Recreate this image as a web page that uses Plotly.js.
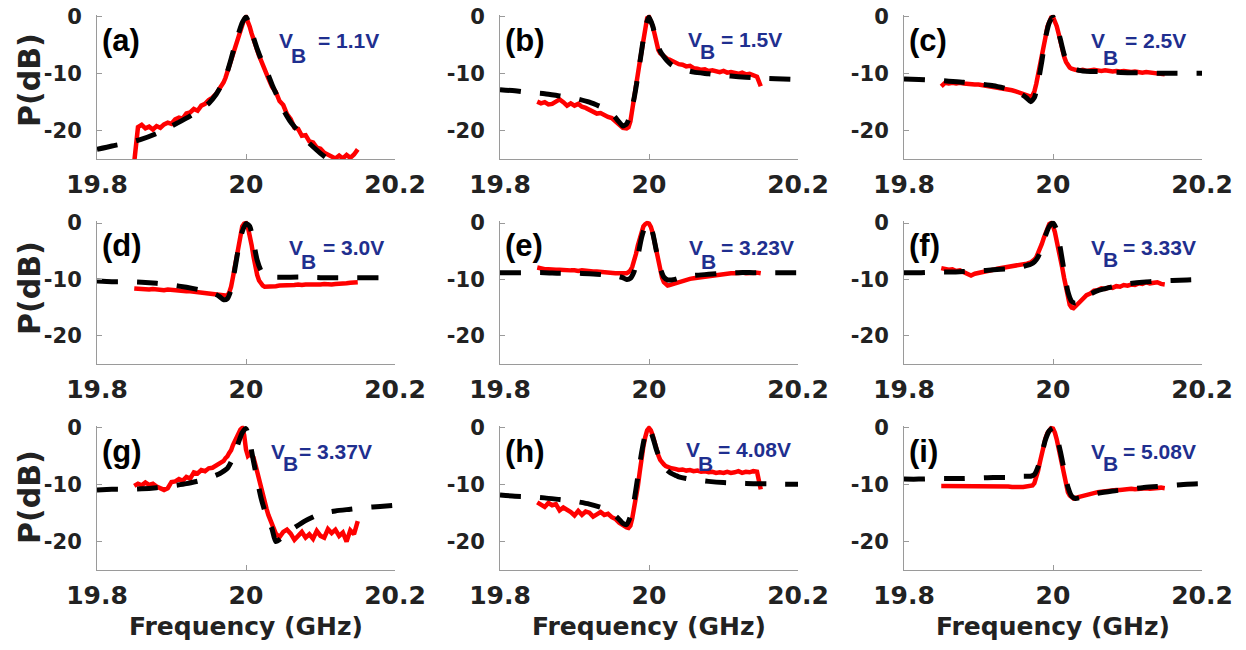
<!DOCTYPE html>
<html>
<head>
<meta charset="utf-8">
<script src="https://cdn.plot.ly/plotly-3.0.1.min.js"></script>
<style>html,body{margin:0;padding:0;background:#fff;}#chart{width:1246px;height:650px;}</style>
</head>
<body>
<div id="chart"></div>
<script>
// ---------------- DATA ----------------
// measured-trace frequency samples (GHz)
const measFreq = [
  19.850,19.855,19.860,19.865,19.870,19.875,19.880,19.885,19.890,19.895,19.900,19.905,
  19.910,19.915,19.920,19.925,19.930,19.935,19.940,19.945,19.950,19.955,19.960,19.965,
  19.9700,19.9725,19.9750,19.9775,19.9800,19.9825,19.9850,19.9875,19.9900,19.9925,19.9950,19.9975,
  20.0000,20.0025,20.0050,20.0075,20.0100,20.0125,20.0150,20.0175,20.0200,20.0225,20.0250,20.0275,20.0300,
  20.035,20.040,20.045,20.050,20.055,20.060,20.065,20.070,20.075,20.080,20.085,20.090,
  20.095,20.100,20.105,20.110,20.115,20.120,20.125,20.130,20.135,20.140,20.145,20.150
];
// fitted-curve frequency samples (GHz)
const fitFreq = [
  19.80,19.82,19.84,19.86,19.88,19.90,19.92,19.94,19.95,19.96,
  19.965,19.97,19.975,19.98,19.985,19.99,19.995,20.0,20.005,20.01,
  20.015,20.02,20.025,20.03,20.035,20.04,20.05,20.06,20.08,20.10,
  20.12,20.14,20.16,20.18,20.20
];

// measured P (dB)
const measA = [
  -25.5,-19.4,-19.0,-19.6,-19.3,-19.8,-19.2,-19.5,-18.9,-18.6,-18.8,-18.0,-17.7,-17.9,-17.0,-16.8,-16.2,-16.5,-15.6,-15.3,-14.6,-14.2,-13.5,-12.6,
  -11.5,-10.7,-9.7,-8.6,-7.6,-6.5,-5.5,-4.4,-3.4,-2.3,-1.4,-0.4,0,-0.7,-1.7,-2.9,-4.0,-4.9,-5.8,-6.8,-7.6,-8.5,-9.4,-10.0,-10.8,
  -12.3,-13.2,-14.8,-15.5,-17.1,-18.0,-19.5,-19.7,-20.9,-20.8,-21.9,-22.1,-23.0,-23.2,-23.9,-24.3,-24.7,-24.9,-24.4,-24.9,-24.3,-24.8,-24.2,-23.3
];
const measB = [
  -14.9,-15.2,-15.0,-15.4,-15.3,-14.8,-14.5,-15.0,-15.6,-15.2,-15.6,-15.3,-15.8,-16.0,-16.4,-16.6,-17.0,-16.9,-17.3,-17.6,-17.8,-18.4,-19.0,-19.5,
  -19.6,-19.4,-18.4,-16.6,-14.5,-12.3,-10.1,-8.0,-5.8,-3.3,-1.2,-0.2,0,-0.6,-1.6,-3.0,-4.6,-5.8,-6.4,-6.7,-7.0,-7.2,-7.4,-7.5,-7.7,
  -8.0,-8.3,-8.4,-8.7,-8.6,-9.0,-9.1,-9.3,-9.2,-9.5,-9.4,-9.6,-9.7,-9.5,-9.8,-9.7,-9.9,-10.0,-9.8,-10.1,-10.0,-10.2,-10.5,-12.2
];
const measC = [
  -12.2,-11.6,-11.7,-11.6,-11.7,-11.6,-11.7,-11.8,-11.8,-11.9,-11.9,-12.0,-12.0,-12.1,-12.2,-12.3,-12.5,-12.6,-12.8,-12.9,-13.1,-13.3,-13.6,-13.9,
  -14.0,-13.8,-13.1,-11.8,-10.3,-8.8,-7.2,-5.4,-3.5,-1.7,-0.6,-0.1,0,-0.6,-1.6,-2.9,-4.4,-5.8,-7.0,-7.9,-8.5,-8.9,-9.1,-9.3,-9.3,
  -9.4,-9.3,-9.5,-9.4,-9.3,-9.4,-9.5,-9.4,-9.5,-9.6,-9.5,-9.6,-9.5,-9.6,-9.7,-9.6,-9.7,-9.8,-9.7,-9.8,-9.9,-9.9,-10.0,-10.1
];
const measD = [
  -11.6,-11.7,-11.6,-11.7,-11.8,-11.7,-11.8,-11.8,-11.9,-11.8,-11.9,-12.0,-11.9,-12.0,-12.1,-12.1,-12.2,-12.3,-12.3,-12.4,-12.5,-12.6,-12.7,-12.8,
  -12.9,-13.0,-12.9,-12.3,-11.3,-9.6,-7.7,-5.5,-3.6,-1.8,-0.6,-0.1,0,-0.7,-2.0,-3.9,-5.9,-7.8,-9.2,-10.2,-10.8,-11.1,-11.3,-11.3,-11.3,
  -11.2,-11.2,-11.1,-11.1,-11.0,-11.1,-11.0,-10.9,-11.0,-10.9,-10.9,-11.0,-10.9,-10.9,-10.8,-10.9,-10.9,-10.8,-10.8,-10.7,-10.7,-10.6,-10.6,-10.5
];
const measE = [
  -7.9,-8.1,-8.2,-8.2,-8.3,-8.3,-8.3,-8.4,-8.3,-8.4,-8.4,-8.5,-8.4,-8.5,-8.5,-8.6,-8.6,-8.7,-8.7,-8.8,-8.8,-8.9,-8.9,-8.9,
  -8.9,-8.7,-8.4,-7.8,-6.8,-5.5,-4.0,-2.6,-1.4,-0.6,-0.2,0,-0.1,-0.7,-1.8,-3.4,-5.2,-7.0,-8.5,-9.7,-10.5,-10.9,-11.1,-11.0,-10.9,
  -10.6,-10.4,-10.2,-10.0,-9.9,-9.8,-9.7,-9.6,-9.5,-9.4,-9.3,-9.2,-9.1,-9.0,-9.0,-8.9,-8.9,-8.8,-8.8,-8.9,-8.8,-8.9,-8.8,-8.9
];
const measF = [
  -8.0,-8.2,-8.3,-8.2,-8.5,-8.4,-8.7,-8.9,-9.3,-9.0,-8.9,-8.7,-8.6,-8.4,-8.3,-8.1,-8.0,-7.9,-7.8,-7.7,-7.6,-7.5,-7.3,-7.2,
  -7.0,-6.8,-6.5,-6.1,-5.4,-4.6,-3.7,-2.7,-1.7,-0.8,-0.2,0,-0.5,-1.6,-3.0,-4.6,-6.3,-8.0,-9.8,-11.6,-13.3,-14.5,-15.0,-15.1,-14.8,
  -14.1,-13.5,-12.8,-12.5,-12.0,-11.9,-11.6,-11.7,-11.4,-11.5,-11.2,-11.3,-11.0,-11.1,-10.9,-11.0,-10.7,-10.8,-10.5,-10.7,-10.6,-10.5,-10.8,-10.9
];
const measG = [
  -10.2,-9.8,-10.1,-9.6,-10.0,-9.8,-10.3,-10.6,-10.9,-10.6,-9.5,-9.4,-9.0,-9.3,-8.6,-8.9,-7.8,-8.0,-7.4,-7.6,-7.1,-7.0,-6.6,-6.0,
  -5.8,-5.3,-5.0,-4.4,-3.9,-3.0,-2.2,-1.5,-0.8,-0.3,0,-1.2,-3.8,-4.9,-4.6,-5.0,-5.2,-6.4,-7.8,-9.3,-10.7,-11.9,-13.0,-14.2,-15.3,
  -17.0,-18.6,-19.2,-18.3,-17.9,-18.6,-19.7,-18.9,-18.3,-19.3,-18.7,-19.5,-18.1,-19.0,-19.3,-17.8,-18.5,-17.9,-19.0,-18.4,-20.0,-18.0,-18.7,-16.4
];
const measH = [
  -13.1,-13.6,-13.9,-13.2,-13.6,-13.4,-14.5,-14.0,-14.3,-14.8,-15.4,-14.6,-15.3,-14.7,-14.9,-15.6,-15.2,-14.8,-15.3,-15.1,-15.7,-16.0,-16.7,-17.2,
  -17.5,-17.6,-17.2,-15.9,-14.2,-12.2,-10.3,-7.8,-5.2,-3.2,-1.6,-0.4,0,-0.4,-1.3,-2.6,-3.8,-4.8,-5.6,-6.1,-6.4,-6.7,-6.9,-7.0,-7.1,
  -7.2,-7.4,-7.3,-7.5,-7.4,-7.6,-7.5,-7.7,-7.6,-7.8,-7.7,-7.9,-7.8,-7.9,-7.7,-7.9,-7.8,-7.6,-7.9,-7.7,-7.8,-7.6,-7.7,-10.8
];
const measI = [
  -10.2,-10.2,-10.3,-10.2,-10.3,-10.2,-10.3,-10.2,-10.3,-10.3,-10.2,-10.3,-10.3,-10.2,-10.3,-10.3,-10.2,-10.3,-10.3,-10.4,-10.3,-10.4,-10.4,-10.3,
  -10.3,-10.1,-9.7,-8.8,-7.5,-6.0,-4.4,-3.0,-1.8,-0.9,-0.3,0,-0.1,-0.8,-2.0,-3.6,-5.4,-7.2,-8.9,-10.3,-11.3,-11.9,-12.3,-12.4,-12.3,
  -12.1,-11.9,-11.7,-11.6,-11.4,-11.3,-11.2,-11.1,-11.1,-11.0,-10.9,-10.9,-10.8,-10.8,-10.7,-10.8,-10.7,-10.7,-10.6,-10.7,-10.6,-10.6,-10.5,-10.6
];

// fitted P (dB)
const fitA = [-23.3,-22.7,-22.2,-21.5,-20.5,-19.2,-17.8,-16.2,-15.2,-13.6,-12.5,-11.2,-9.6,-7.4,-5.0,-2.9,-1.0,0,-1.5,-3.6,-5.6,-7.3,-8.7,-10.2,-11.9,-13.4,-16.3,-18.5,-21.6,-24.0,-26,-27.5,-29,-30,-31];
const fitB = [-12.8,-13.0,-13.3,-13.5,-13.9,-14.3,-15.0,-16.1,-17.0,-18.5,-19.2,-18.8,-17.2,-14.3,-10.4,-6.0,-1.8,0,-1.6,-4.3,-6.0,-7.0,-7.8,-8.4,-8.8,-9.1,-9.4,-9.7,-10.0,-10.3,-10.5,-10.7,-10.8,-10.9,-11.0];
const fitC = [-10.9,-11.0,-11.1,-11.3,-11.5,-11.8,-12.1,-12.7,-13.1,-13.8,-14.3,-14.9,-14.2,-11.5,-7.8,-3.6,-1.0,0,-1.5,-4.0,-6.6,-8.2,-8.9,-9.2,-9.4,-9.5,-9.6,-9.6,-9.7,-9.8,-9.8,-9.9,-9.9,-9.9,-9.9];
const fitD = [-10.3,-10.4,-10.4,-10.5,-10.7,-11.0,-11.4,-11.9,-12.2,-12.7,-13.1,-13.6,-13.4,-11.8,-8.2,-4.4,-1.5,-0.1,-0.6,-3.4,-6.6,-8.4,-9.1,-9.4,-9.5,-9.6,-9.6,-9.6,-9.6,-9.7,-9.7,-9.7,-9.7,-9.7,-9.7];
const fitE = [-8.8,-8.8,-8.8,-8.8,-8.9,-8.9,-9.0,-9.2,-9.3,-9.5,-9.7,-10.0,-9.8,-8.6,-5.9,-2.6,-0.6,0,-1.8,-5.0,-8.0,-9.6,-10.1,-10.1,-10.0,-9.8,-9.5,-9.3,-9.1,-8.9,-8.8,-8.8,-8.8,-8.8,-8.8];
const fitF = [-8.8,-8.8,-8.7,-8.7,-8.6,-8.5,-8.3,-8.1,-7.9,-7.7,-7.5,-7.3,-6.9,-6.0,-4.3,-2.2,-0.6,0,-1.2,-4.6,-8.6,-12.2,-13.9,-14.2,-13.9,-13.4,-12.6,-12.0,-11.3,-10.8,-10.5,-10.3,-10.2,-10.1,-10.0];
const fitG = [-10.9,-10.8,-10.8,-10.7,-10.5,-10.2,-9.8,-9.2,-8.8,-8.3,-8.0,-7.6,-7.1,-6.0,-4.5,-2.5,-0.8,-0.1,-2.4,-5.8,-9.1,-12.2,-14.5,-16.3,-17.8,-20.0,-19.1,-18.0,-16.3,-15.1,-14.6,-14.3,-14.0,-13.8,-13.6];
const fitH = [-11.8,-12.0,-12.1,-12.3,-12.6,-12.9,-13.4,-14.2,-14.9,-16.1,-16.8,-17.0,-15.6,-12.8,-8.6,-4.4,-1.2,0,-1.6,-3.8,-5.5,-6.8,-7.5,-8.0,-8.3,-8.6,-8.9,-9.1,-9.4,-9.6,-9.7,-9.8,-9.8,-9.9,-9.9];
const fitI = [-9.0,-9.0,-8.9,-8.9,-8.9,-8.8,-8.7,-8.7,-8.6,-8.5,-8.5,-8.5,-8.2,-6.8,-4.5,-2.0,-0.5,0,-1.5,-4.2,-7.4,-10.4,-12.0,-12.4,-12.3,-12.1,-11.8,-11.5,-11.1,-10.8,-10.5,-10.3,-10.1,-9.9,-9.8];

const panelLabels = ['(a)','(b)','(c)','(d)','(e)','(f)','(g)','(h)','(i)'];
const biasVoltages = ['1.1V','1.5V','2.5V','3.0V','3.23V','3.33V','3.37V','4.08V','5.08V'];
const xTickVals = [19.8, 20, 20.2];
const xTickText = ['19.8','20','20.2'];
const yTickVals = [0, -10, -20];
const yTickText = ['0','-10','-20'];
const xTitle = 'Frequency (GHz)';
const yTitle = 'P(dB)';

const measSets = [measA,measB,measC,measD,measE,measF,measG,measH,measI];
const fitSets = [fitA,fitB,fitC,fitD,fitE,fitF,fitG,fitH,fitI];
measSets.forEach((a,i)=>{ if(a.length!==measFreq.length) throw new Error('meas '+i+' len '+a.length); });
fitSets.forEach((a,i)=>{ if(a.length!==fitFreq.length) throw new Error('fit '+i+' len '+a.length); });

// ---------------- LAYOUT ----------------
const W = 1246, H = 650;
const FONT = 'Liberation Sans, Arial, Helvetica, sans-serif';
const FONT2 = 'DejaVu Sans, Liberation Sans, sans-serif';
const colL = [97, 500, 904], colR = [395, 798, 1202];
const rowTop0 = [17, 223, 428], rowBot = [159, 364, 570];
const yTopVal = 0.4, yBotVal = -25;
const AXC = '#9a9a9a', TXT = '#222222', BLUE = '#1f2f8f';
const px = x => x / W, py = y => 1 - y / H;

const traces = [];
const layout = {
  width: W, height: H,
  margin: {l:0, r:0, t:0, b:0},
  paper_bgcolor: '#ffffff', plot_bgcolor: 'rgba(0,0,0,0)',
  showlegend: false,
  font: {family: FONT, color: TXT},
  annotations: []
};

for (let i = 0; i < 9; i++) {
  const row = Math.floor(i / 3), col = i % 3;
  const n = i === 0 ? '' : String(i + 1);
  const xa = 'x' + n, ya = 'y' + n;
  traces.push({x: measFreq, y: measSets[i], xaxis: xa, yaxis: ya, type: 'scatter', mode: 'lines',
               line: {color: '#ff0000', width: 4.5}, hoverinfo: 'skip'});
  traces.push({x: fitFreq, y: fitSets[i], xaxis: xa, yaxis: ya, type: 'scatter', mode: 'lines',
               line: {color: '#000000', width: 5, dash: '21px,19px', shape: 'spline', smoothing: 0.6}, hoverinfo: 'skip'});
  const pxPerDb = (rowBot[row] - rowTop0[row]) / 25;
  const topPix = rowTop0[row] - yTopVal * pxPerDb;
  layout['xaxis' + n] = {
    domain: [px(colL[col]), px(colR[col])], anchor: ya, range: [19.8, 20.2],
    tickmode: 'array', tickvals: xTickVals, ticktext: xTickText,
    ticks: 'inside', ticklen: 5, tickwidth: 1, tickcolor: AXC,
    showline: true, linecolor: AXC, linewidth: 1, showgrid: false, zeroline: false,
    tickfont: {family: FONT2, size: 25, color: TXT, weight: 'bold'}, ticklabelstandoff: 3,
    fixedrange: true
  };
  layout['yaxis' + n] = {
    domain: [py(rowBot[row]), py(topPix)], anchor: xa, range: [yBotVal, yTopVal],
    tickmode: 'array', tickvals: yTickVals, ticktext: yTickText,
    ticks: 'inside', ticklen: 5, tickwidth: 1, tickcolor: AXC,
    showline: true, linecolor: AXC, linewidth: 1, showgrid: false, zeroline: false,
    tickfont: {family: FONT2, size: 21, color: TXT, weight: 'bold'}, ticklabelstandoff: 10,
    fixedrange: true
  };
  // panel label
  const cy = rowTop0[row] + 23;
  layout.annotations.push({xref: 'paper', yref: 'paper', x: px(colL[col] + 3), y: py(cy),
    xanchor: 'left', yanchor: 'middle', showarrow: false, text: panelLabels[i],
    font: {family: FONT, size: 31, color: '#000', weight: 'bold'}});
}

// V_B labels: [V left x, V centre y, B centre y, right end x of text]
const vbPos = [
  [278, 40, 55, 380], [687, 39, 52, 783], [1090, 40, 57, 1187],
  [288, 247, 261, 385], [688, 247, 261, 795], [1090, 247, 259, 1197],
  [270, 451, 464, 373], [685, 449, 463, 792], [1090, 451, 464, 1197]
];
vbPos.forEach((p, i) => {
  const f = {family: FONT, size: 21, color: BLUE, weight: 'bold'};
  layout.annotations.push({xref:'paper', yref:'paper', x: px(p[0]), y: py(p[1]), xanchor:'left', yanchor:'middle',
    showarrow:false, text:'V', font:f, borderpad: 0});
  layout.annotations.push({xref:'paper', yref:'paper', x: px(p[0] + 20), y: py(p[2]), xanchor:'center', yanchor:'middle',
    showarrow:false, text:'B', font:f, borderpad: 0});
  layout.annotations.push({xref:'paper', yref:'paper', x: px(p[3]), y: py(p[1]), xanchor:'right', yanchor:'middle',
    showarrow:false, text:'= ' + biasVoltages[i], font:f, borderpad: 0});
});

// axis titles
[80, 288, 497].forEach(cy => {
  layout.annotations.push({xref:'paper', yref:'paper', x: px(29), y: py(cy), xanchor:'center', yanchor:'middle',
    showarrow:false, textangle:-90, text: yTitle, font:{family: FONT2, size: 30, color: TXT, weight: 'bold'}});
});
[246, 649, 1053].forEach(cx => {
  layout.annotations.push({xref:'paper', yref:'paper', x: px(cx), y: py(626), xanchor:'center', yanchor:'middle',
    showarrow:false, text: xTitle, font:{family: FONT2, size: 25, color: TXT, weight: 'bold'}});
});

Plotly.newPlot('chart', traces, layout, {staticPlot: true, displayModeBar: false});
</script>
</body>
</html>
